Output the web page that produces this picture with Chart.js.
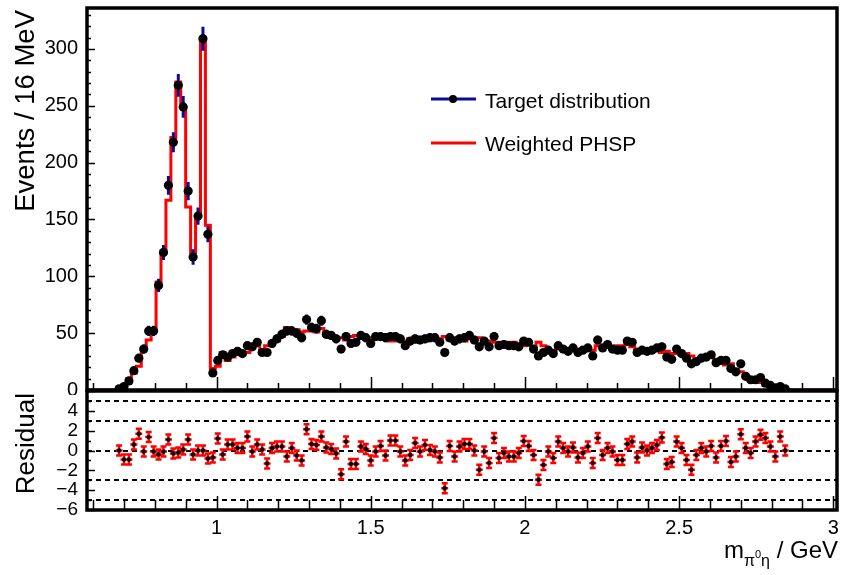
<!DOCTYPE html>
<html><head><meta charset="utf-8">
<script src="https://cdn.jsdelivr.net/npm/chart.js@4"></script>
<style>
html,body{margin:0;padding:0;background:#fff;}
body{width:844px;height:575px;overflow:hidden;position:relative;font-family:"Liberation Sans",Arial,sans-serif;color:#000;}
canvas{position:absolute;left:0;}
#topc{top:0;}
#botc{top:385px;}
.t{position:absolute;white-space:nowrap;color:#000;}
.rot{transform:rotate(-90deg);transform-origin:0 0;text-align:right;}
</style></head><body>
<canvas id="topc" width="844" height="395"></canvas>
<canvas id="botc" width="844" height="190"></canvas>
<div class="t rot" style="left:10px;top:410px;width:400px;line-height:30px;font-size:27.5px;">Events / 16 MeV</div>
<div class="t rot" style="left:10px;top:593px;width:200px;line-height:30px;font-size:26px;">Residual</div>
<div class="t" style="left:485px;top:89px;font-size:21px;line-height:24px;">Target distribution</div>
<div class="t" style="left:485px;top:132px;font-size:21px;line-height:24px;">Weighted PHSP</div>
<div class="t" style="right:6px;top:536px;font-size:24px;line-height:28px;">m<span style="font-size:16px;position:relative;top:8px;">π<span style="font-size:11px;position:relative;top:-8px;">0</span>η</span> / GeV</div>
<script>
// ---- data (16 MeV bins starting at 0.58 GeV) ----
const XMIN = 0.58, BIN_W = 0.016, XMAX = 3.012;
const targetCounts = [
0,0,0,0,0,0,1,3,8,17,28,36,52,52,92,121,180,218,268,249,
175,117,153,309,137,15,26,31,29,32,34,32,39,38,42,33,33,41,45,49,
52,52,50,46,62,55,54,61,49,48,45,36,47,41,42,48,46,41,47,47,
46,47,47,45,39,43,45,44,45,46,46,42,33,46,43,45,46,48,44,38,
43,38,47,39,40,39,39,38,43,42,36,30,33,35,32,39,36,34,37,33,
35,37,30,44,37,40,36,35,35,43,42,33,35,34,35,37,38,29,27,36,
32,28,23,25,28,29,31,24,26,26,19,16,23,12,9,9,11,6,4,2,
3,1,0,0,0,0,0,0,0,0,0,0];
const targetErrors = [
0,0,0,0,0,0,1,1.5,2.5,3,3.5,4,4.5,4.5,5.8,6.6,8.3,8.8,10,9.5,
8,6.9,7.6,10.5,7,2.5,3,3.2,3.1,3.2,3.3,3.2,3.5,3.5,3.7,3.3,3.3,3.6,3.8,4,
4.1,4.1,4,3.9,4.5,4.2,4.2,4.4,4,4,3.8,3.4,3.9,3.6,3.7,3.9,3.9,3.6,3.9,3.9,
3.9,3.9,3.9,3.8,3.5,3.7,3.8,3.7,3.8,3.9,3.9,3.6,3.2,3.9,3.7,3.8,3.9,3.9,3.7,3.5,
3.7,3.5,3.9,3.5,3.6,3.5,3.5,3.5,3.7,3.6,3.4,3.1,3.2,3.3,3.2,3.5,3.4,3.3,3.4,3.2,
3.3,3.4,3.1,3.8,3.4,3.5,3.4,3.3,3.3,3.7,3.6,3.2,3.3,3.3,3.3,3.4,3.5,3.1,3,3.4,
3.2,3,2.7,2.8,3,3,3.1,2.8,2.9,2.9,2.5,2.3,2.7,2,1.7,1.7,1.9,1.4,1.2,0.9,
1,0.6,0,0,0,0,0,0,0,0,0,0];
const weightedPHSP = [
0,0,0,0,0,0,1,4,10,15,21,36,44,52,95,122,167,222,271,248,
161,121,153,310,145,19,21,33,26,29,33,31,33,39,39,33,39,40,43,47,
55,51,53,51,52,52,51,54,48,47,46,46,44,47,48,46,45,46,47,45,
48,43,43,45,43,45,42,44,43,46,46,45,47,44,46,43,43,45,44,46,
43,43,42,42,41,42,42,39,39,40,38,42,39,35,35,36,35,34,36,36,
36,35,35,39,39,39,36,39,39,40,38,36,34,34,34,35,33,34,32,32,
31,32,30,27,27,29,29,27,24,22,23,18,16,11,10,6.5,6.5,4,3,3,
1,1,0,0,0,0,0,0,0,0,0,0];
const residuals = [
null,null,null,null,null,null,0,-0.9,-0.9,0.6,1.7,-0.1,1.35,-0.1,-0.4,-0.1,1.1,-0.3,-0.2,0.1,
1.1,-0.4,0,0,-0.8,-0.7,1.2,-0.4,0.6,0.6,0.25,0.25,1.4,-0.1,0.6,0.1,-1.3,0.25,0.4,0.4,
-0.6,0.25,-0.5,-1.0,2.15,0.65,0.55,1.4,0.3,0.15,-0.3,-2.4,0.9,-1.35,-1.35,0.4,0.15,-1.0,-0.1,0.45,
-0.5,1.0,1.0,-0.1,-1.0,-0.45,0.75,-0.1,0.55,0.05,-0.1,-0.7,-3.8,0.45,-0.6,0.4,0.65,0.65,0,-1.95,
-0.1,-1.25,1.25,-0.75,-0.25,-0.6,-0.6,-0.25,0.95,0.45,-0.45,-2.95,-1.45,-0.1,-0.75,0.9,0.25,-0.1,0.3,-0.7,
-0.25,0.4,-1.25,1.25,-0.45,0.25,-0.1,-0.95,-0.95,0.65,0.9,-0.7,0.3,0,0.25,0.55,1.3,-1.35,-1.15,0.9,
0.25,-0.95,-1.95,-0.45,0.25,-0.1,0.45,-0.7,0.45,0.95,-1.15,-0.6,1.65,0.25,-0.25,0.9,1.6,1.25,0.4,-0.6,
1.4,0,null,null,null,null,null,null,null,null,null,null];
const xTickValues = [1, 1.5, 2, 2.5, 3];
const yTickValuesTop = [0, 50, 100, 150, 200, 250, 300];
const yTickValuesRes = [-6, -4, -2, 0, 2, 4];
const residualRefLines = [5, 3, 0, -3, -5];

// ---- derived structures ----
const centers = targetCounts.map((_, i) => XMIN + (i + 0.5) * BIN_W);
const histPts = weightedPHSP.map((v, i) => ({x: XMIN + i * BIN_W, y: v}));
histPts.push({x: XMAX, y: weightedPHSP[weightedPHSP.length - 1]});
const dataPts = [];
targetCounts.forEach((v, i) => { if (v > 0) dataPts.push({x: centers[i], y: v, e: targetErrors[i]}); });
const resPts = [];
residuals.forEach((v, i) => { if (v !== null) resPts.push({x: centers[i], y: v}); });

const FONT = {family: "'Liberation Sans', Arial, sans-serif", size: 20};
const FONT_RES = {family: "'Liberation Sans', Arial, sans-serif", size: 19};
const BLUE = '#0a0a9c';

function frameAndTicks(chart, xMinorLen, xMajorLen, yStepMinor, yStepMajor, yMinorLen, yMajorLen) {
  const {ctx, chartArea: a, scales: {x, y}} = chart;
  ctx.save();
  ctx.strokeStyle = '#000';
  ctx.lineWidth = 1.5;
  ctx.beginPath();
  for (let k = 6; k <= 30; k++) {
    const v = k / 10;
    const px = Math.round(x.getPixelForValue(v)) + 0.5;
    const len = (k % 5 === 0) ? xMajorLen : xMinorLen;
    ctx.moveTo(px, a.bottom); ctx.lineTo(px, a.bottom - len);
  }
  const yMin = y.min, yMax = y.max;
  for (let v = Math.ceil(yMin / yStepMinor) * yStepMinor; v <= yMax + 1e-9; v += yStepMinor) {
    const py = Math.round(y.getPixelForValue(v)) + 0.5;
    const isMaj = Math.abs(v / yStepMajor - Math.round(v / yStepMajor)) < 1e-6;
    ctx.moveTo(a.left, py); ctx.lineTo(a.left + (isMaj ? yMajorLen : yMinorLen), py);
  }
  ctx.stroke();
  ctx.lineWidth = 3.5;
  ctx.strokeRect(a.left, a.top, a.right - a.left, a.bottom - a.top);
  ctx.restore();
}

const topDeco = {
  id: 'topDeco',
  afterDatasetDraw(chart, args) {
    if (args.index !== 0) return;
    const {ctx, scales: {x, y}} = chart;
    ctx.save();
    ctx.strokeStyle = BLUE; ctx.lineWidth = 3;
    ctx.beginPath();
    dataPts.forEach(p => {
      const px = x.getPixelForValue(p.x);
      ctx.moveTo(px, y.getPixelForValue(p.y - p.e));
      ctx.lineTo(px, y.getPixelForValue(p.y + p.e));
    });
    ctx.stroke();
    ctx.restore();
  },
  afterDraw(chart) {
    frameAndTicks(chart, 7, 13, 10, 50, 4, 8);
    const ctx = chart.ctx;
    ctx.save();
    ctx.lineWidth = 3;
    ctx.strokeStyle = BLUE;
    ctx.beginPath(); ctx.moveTo(431, 99); ctx.lineTo(476, 99); ctx.stroke();
    ctx.fillStyle = '#000';
    ctx.beginPath(); ctx.arc(453, 99, 4, 0, Math.PI * 2); ctx.fill();
    ctx.strokeStyle = '#ff0000';
    ctx.beginPath(); ctx.moveTo(431, 143); ctx.lineTo(476, 143); ctx.stroke();
    ctx.restore();
  }
};

const botDeco = {
  id: 'botDeco',
  beforeDatasetsDraw(chart) {
    const {ctx, chartArea: a, scales: {x, y}} = chart;
    ctx.save();
    ctx.strokeStyle = '#000'; ctx.lineWidth = 2; ctx.setLineDash([5, 4]);
    residualRefLines.forEach(v => {
      const py = Math.round(y.getPixelForValue(v));
      ctx.beginPath(); ctx.moveTo(a.left, py); ctx.lineTo(a.right, py); ctx.stroke();
    });
    ctx.setLineDash([]);
    ctx.strokeStyle = '#ff0000'; ctx.lineWidth = 2.5;
    ctx.beginPath();
    resPts.forEach(p => {
      const px = x.getPixelForValue(p.x), py = y.getPixelForValue(p.y);
      ctx.moveTo(px, py - 5.5); ctx.lineTo(px, py + 5.5);
      ctx.moveTo(px - 3.5, py); ctx.lineTo(px + 3.5, py);
      ctx.moveTo(px - 3, py - 5); ctx.lineTo(px + 3, py - 5);
      ctx.moveTo(px - 3, py + 5); ctx.lineTo(px + 3, py + 5);
    });
    ctx.stroke();
    ctx.restore();
  },
  afterDraw(chart) {
    frameAndTicks(chart, 10, 14, 1, 2, 4, 8);
  }
};

const common = {responsive: false, animation: false, events: [],
  plugins: {legend: {display: false}, tooltip: {enabled: false}}};

new Chart(document.getElementById('topc'), {
  type: 'line',
  data: {datasets: [
    {type: 'line', data: histPts, borderColor: '#ff0000', borderWidth: 3, pointRadius: 0,
     stepped: 'before', fill: false, order: 2},
    {type: 'scatter', data: dataPts, backgroundColor: '#000', borderColor: '#000',
     pointRadius: 4.6, borderWidth: 0, order: 1}
  ]},
  options: Object.assign({}, common, {
    layout: {padding: {top: 8, right: 7, bottom: 5, left: 0}},
    scales: {
      x: {type: 'linear', min: XMIN, max: XMAX, display: false},
      y: {type: 'linear', min: 0, max: 336,
          afterBuildTicks(s) { s.ticks = yTickValuesTop.map(v => ({value: v})); },
          afterFit(s) { s.width = 87; s.paddingTop = 0; s.paddingBottom = 0; },
          grid: {display: false, drawTicks: false}, border: {display: false},
          ticks: {font: FONT, color: '#000', padding: 9, autoSkip: false}}
    }
  }),
  plugins: [topDeco]
});

new Chart(document.getElementById('botc'), {
  type: 'scatter',
  data: {datasets: [
    {data: resPts, backgroundColor: '#000', borderColor: '#000', pointRadius: 2.2, borderWidth: 0}
  ]},
  options: Object.assign({}, common, {
    layout: {padding: {top: 6, right: 7, bottom: 0, left: 0}},
    scales: {
      x: {type: 'linear', min: XMIN, max: XMAX, position: 'bottom',
          afterBuildTicks(s) { s.ticks = xTickValues.map(v => ({value: v})); },
          afterFit(s) { s.height = 65; s.paddingLeft = 0; s.paddingRight = 0; },
          grid: {display: false, drawTicks: false}, border: {display: false},
          ticks: {font: FONT, color: '#000', padding: 6, maxRotation: 0, autoSkip: false,
                  callback: v => String(v)}},
      y: {type: 'linear', min: -6, max: 6,
          afterBuildTicks(s) { s.ticks = yTickValuesRes.map(v => ({value: v})); },
          afterFit(s) { s.width = 87; s.paddingTop = 0; s.paddingBottom = 0; },
          grid: {display: false, drawTicks: false}, border: {display: false},
          ticks: {font: FONT_RES, color: '#000', padding: 9, autoSkip: false,
                  callback: v => (v < 0 ? '\u2212' + Math.abs(v) : String(v))}}
    }
  }),
  plugins: [botDeco]
});
</script>
</body></html>
